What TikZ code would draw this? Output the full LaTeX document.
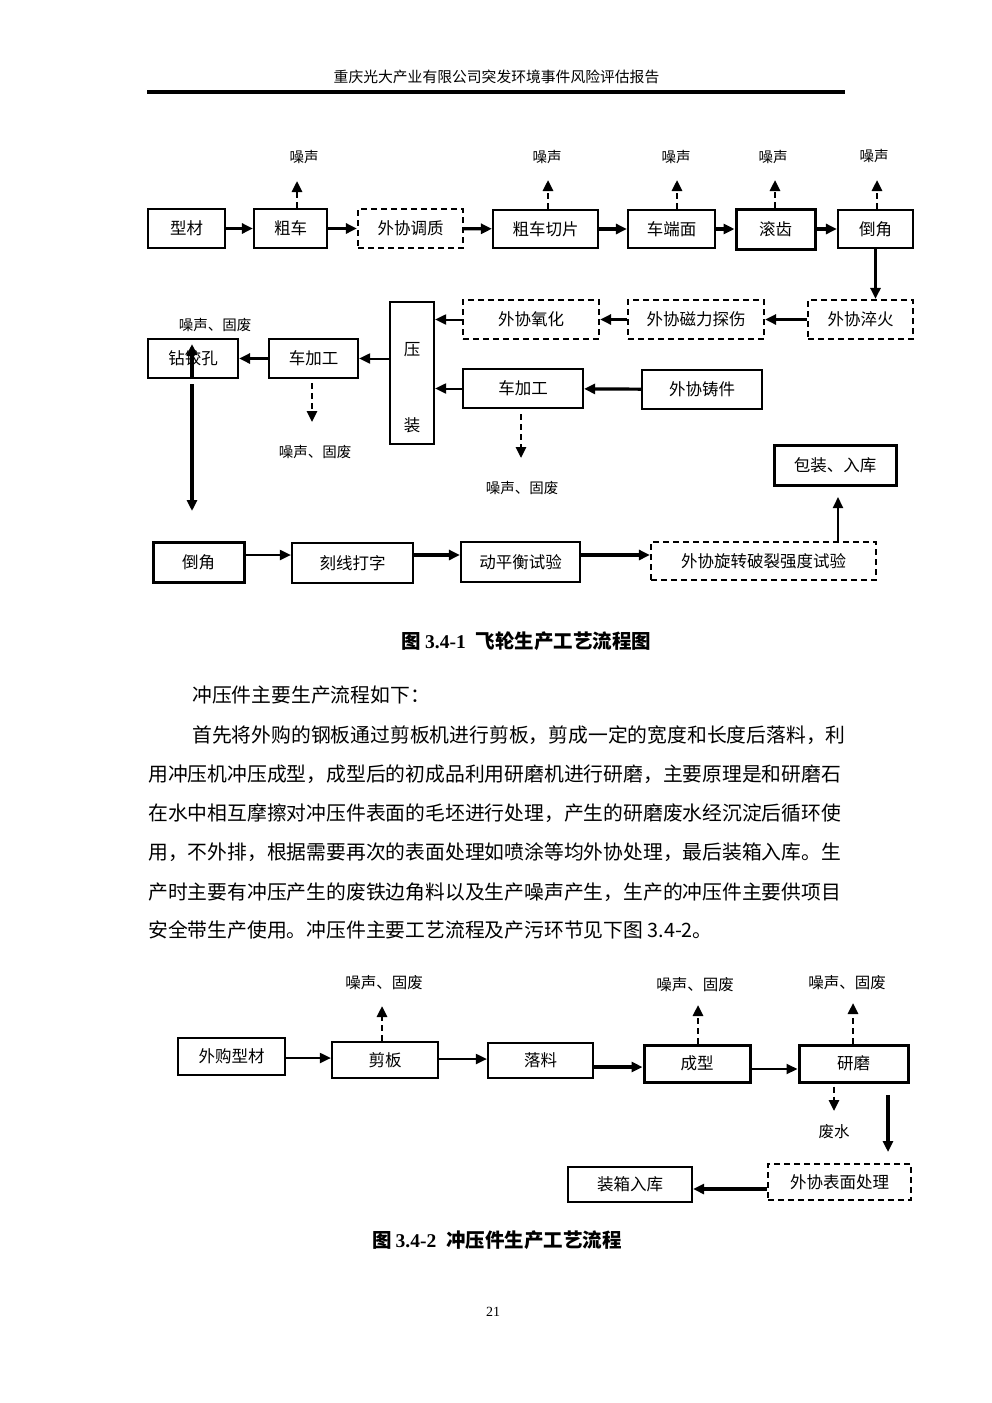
\documentclass[tikz,border=0pt]{standalone}
\usepackage{fontspec}
\setmainfont{Liberation Serif}
\newfontfamily\cjk{Noto Sans CJK SC}
\usetikzlibrary{arrows.meta}
\newcommand\bxf{\fontsize{16.5}{19}\selectfont}
\newcommand\lblf{\fontsize{14.5}{17}\selectfont}
\newcommand\lblff{\fontsize{15.5}{18}\selectfont}
\newcommand\bodyf{\fontsize{19.8}{23}\selectfont}
\begin{document}
\begin{tikzpicture}[x=1pt,y=-1pt,
  box/.style={draw, line width=2.2pt, inner sep=0pt, font=\cjk\bxf},
  dbox/.style={box, dash pattern=on 6pt off 4pt},
  tbox/.style={box, line width=3pt},
  thk/.style={line width=3.2pt, -{Triangle[length=11pt,width=10pt]}},
  thn/.style={line width=2pt, -{Triangle[length=11pt,width=10pt]}},
  dsh/.style={line width=2.6pt, dash pattern=on 6pt off 4pt, -{Triangle[length=11pt,width=10pt]}},
  lbl/.style={inner sep=0pt, font=\cjk\lblf},
  lblb/.style={inner sep=0pt, font=\cjk\lblff},
  bodyline/.style={inner sep=0pt, anchor=west, font=\cjk\bodyf},
]
\useasboundingbox (0,0) rectangle (992,1403);
\fill[white] (0,0) rectangle (992,1403);

% header
\node[inner sep=0pt, font=\cjk\fontsize{14.8}{17}\selectfont] (hdr) at (496.5,77) {重庆光大产业有限公司突发环境事件风险评估报告};
\draw[line width=3.2pt] (147,92) -- (845,92);

% ---------------- diagram 1 ----------------
\node[box, minimum width=77pt, minimum height=39pt] (xc) at (186.5,228.5) {型材};
\node[box, minimum width=73pt, minimum height=39pt] (cc) at (290.5,228.5) {粗车};
\node[dbox, minimum width=105pt, minimum height=39pt] (wtz) at (410.5,228.5) {外协调质};
\node[box, minimum width=105pt, minimum height=38pt] (cqp) at (545.5,229) {粗车切片};
\node[box, minimum width=87pt, minimum height=38pt] (cdm) at (671.5,229) {车端面};
\node[tbox, minimum width=79pt, minimum height=40pt] (gc) at (775.5,229) {滚齿};
\node[box, minimum width=75pt, minimum height=38pt] (dja) at (875.5,229) {倒角};

\node[dbox, minimum width=105pt, minimum height=39pt] (wcz) at (860.5,319.5) {外协淬火};
\node[dbox, minimum width=136pt, minimum height=39pt] (wcl) at (696,319.5) {外协磁力探伤};
\node[dbox, minimum width=136pt, minimum height=39pt] (wyh) at (531,319.5) {外协氧化};
\node[box, minimum width=44pt, minimum height=142pt] (yz) at (412,373) {};
\node[inner sep=0pt, font=\cjk\bxf] (yza) at (412,350) {压};
\node[inner sep=0pt, font=\cjk\bxf] (yzb) at (412,425) {装};
\node[box, minimum width=120pt, minimum height=39pt] (cjgb) at (523,388.5) {车加工};
\node[box, minimum width=120pt, minimum height=39pt] (wzj) at (702,389.5) {外协铸件};
\node[box, minimum width=89pt, minimum height=39pt] (cjga) at (313.5,358.5) {车加工};
\node[box, minimum width=90pt, minimum height=39pt] (zjk) at (193,358.5) {钻铰孔};

\node[tbox, minimum width=91pt, minimum height=40pt] (djb) at (198.5,562) {倒角};
\node[box, minimum width=121pt, minimum height=40pt] (kxdz) at (352.5,563) {刻线打字};
\node[box, minimum width=119pt, minimum height=40pt] (dphs) at (520.5,562) {动平衡试验};
\node[dbox, minimum width=225pt, minimum height=38pt] (wxz) at (763.5,561) {外协旋转破裂强度试验};
\node[tbox, minimum width=122pt, minimum height=40pt] (bzrk) at (835,465) {包装、入库};

% noise labels row 1
\node[lbl] (na) at (304,157) {噪声};
\node[lbl] (nb) at (547,157) {噪声};
\node[lbl] (nc) at (676,157) {噪声};
\node[lbl] (nd) at (773,157) {噪声};
\node[lbl] (ne) at (874,156) {噪声};
\coordinate (ta) at (297,181);
\coordinate (tb) at (548,180);
\coordinate (tc) at (677,180);
\coordinate (td) at (775,180);
\coordinate (te) at (877,180);
\draw[dsh] (cc.north -| ta) -- (ta);
\draw[dsh] (cqp.north -| tb) -- (tb);
\draw[dsh] (cdm.north -| tc) -- (tc);
\draw[dsh] (gc.north -| td) -- (td);
\draw[dsh] (dja.north -| te) -- (te);

% row 1 flow
\draw[thk] (xc) -- (cc);
\draw[thk] (cc) -- (wtz);
\draw[thk] (wtz) -- (cqp);
\draw[thk] (cqp) -- (cdm);
\draw[thk] (cdm) -- (gc);
\draw[thk] (gc) -- (dja);
\draw[thk] (dja.south) -- (dja.south |- wcz.north);

% row 2
\draw[thk] (wcz) -- (wcl);
\draw[thk] (wcl) -- (wyh);
\draw[thn] (wyh.west) -- (wyh.west -| yz.east);
\draw[thk] (wzj) -- (cjgb);
\draw[thn] (cjgb.west) -- (cjgb.west -| yz.east);
\draw[thn] (yz.west |- cjga.east) -- (cjga.east);
\draw[thk] (cjga) -- (zjk);

% noise of left part
\node[lbl] (nf) at (215,325) {噪声、固废};
\coordinate (tf) at (192,344);
\draw[thk] (zjk.south -| tf) -- (tf);
\node[lbl] (ng) at (315,452) {噪声、固废};
\coordinate (tg) at (312,422);
\draw[dsh] ([yshift=-4pt]cjga.south -| tg) -- (tg);
\node[lbl] (nh) at (522,488) {噪声、固废};
\coordinate (th) at (521,458);
\draw[dsh] ([yshift=-5pt]cjgb.south -| th) -- (th);

% long down arrow
\coordinate (dn) at (192,511);
\draw[thk] ([yshift=-5pt]zjk.south -| dn) -- (dn);

% bottom row
\draw[thn] (djb.east |- 0,555) -- (kxdz.west |- 0,555);
\draw[thk] (kxdz.east |- 0,555) -- (dphs.west |- 0,555);
\draw[thk] (dphs.east |- 0,555) -- (wxz.west |- 0,555);
\coordinate (up) at (838,497);
\draw[thn] (wxz.north -| up) -- (up);

% caption 1
\node[inner sep=0pt, font=\bfseries\fontsize{19.5}{22}\selectfont] (capa) at (526.5,641) {{\cjk 图}\hspace{4pt}3.4-1\hspace{10pt}{\cjk 飞轮生产工艺流程图}};

% body text
\node[bodyline] (la) at (192,695) {冲压件主要生产流程如下：};
\node[bodyline] (lb) at (192,735) {首先将外购的钢板通过剪板机进行剪板，剪成一定的宽度和长度后落料，利};
\node[bodyline] (lc) at (148,774) {用冲压机冲压成型，成型后的初成品利用研磨机进行研磨，主要原理是和研磨石};
\node[bodyline] (ld) at (148,813) {在水中相互摩擦对冲压件表面的毛坯进行处理，产生的研磨废水经沉淀后循环使};
\node[bodyline] (le) at (148,852) {用，不外排，根据需要再次的表面处理如喷涂等均外协处理，最后装箱入库。生};
\node[bodyline] (lf) at (148,892) {产时主要有冲压产生的废铁边角料以及生产噪声产生，生产的冲压件主要供项目};
\node[bodyline] (lg) at (148,930) {安全带生产使用。冲压件主要工艺流程及产污环节见下图 3.4-2。};

% ---------------- diagram 2 ----------------
\node[box, minimum width=107pt, minimum height=37pt] (wgxc) at (231.5,1056.5) {外购型材};
\node[box, minimum width=106pt, minimum height=36pt] (jb) at (385,1060) {剪板};
\node[box, minimum width=105pt, minimum height=35pt] (ll) at (540.5,1060.5) {落料};
\node[tbox, minimum width=106pt, minimum height=37pt] (cx) at (697,1063.5) {成型};
\node[tbox, minimum width=109pt, minimum height=37pt] (ym) at (853.5,1063.5) {研磨};
\node[dbox, minimum width=143pt, minimum height=36pt] (wbm) at (839.5,1182) {外协表面处理};
\node[box, minimum width=124pt, minimum height=35pt] (zxrk) at (630,1184.5) {装箱入库};

\node[lblb] (ni) at (384,983) {噪声、固废};
\node[lblb] (nj) at (695,985) {噪声、固废};
\node[lblb] (nk) at (847,983) {噪声、固废};
\node[lblb] (nl) at (834,1132) {废水};
\coordinate (ti) at (382,1006);
\coordinate (tj) at (698,1005);
\coordinate (tk) at (853,1003);
\coordinate (tl) at (834,1111);
\draw[dsh] (jb.north -| ti) -- (ti);
\draw[dsh] (cx.north -| tj) -- (tj);
\draw[dsh] (ym.north -| tk) -- (tk);
\draw[dsh] ([yshift=-3pt]ym.south -| tl) -- (tl);

\draw[thn] (wgxc.east |- 0,1058) -- (jb.west |- 0,1058);
\draw[thn] (jb.east |- 0,1059) -- (ll.west |- 0,1059);
\draw[thk] (ll.east |- 0,1067) -- (cx.west |- 0,1067);
\draw[thn] (cx.east |- 0,1069) -- (ym.west |- 0,1069);
\coordinate (ma) at (888,1095);
\coordinate (mb) at (888,1152);
\draw[thk] (ma) -- (mb);
\draw[thk] (wbm.west |- 0,1189) -- (zxrk.east |- 0,1189);

% caption 2
\node[inner sep=0pt, font=\bfseries\fontsize{19.5}{22}\selectfont] (capb) at (497,1240) {{\cjk 图}\hspace{4pt}3.4-2\hspace{10pt}{\cjk 冲压件生产工艺流程}};

% page number
\node[inner sep=0pt, font=\fontsize{14}{16}\selectfont] (pg) at (493,1312) {21};
\end{tikzpicture}
\end{document}
